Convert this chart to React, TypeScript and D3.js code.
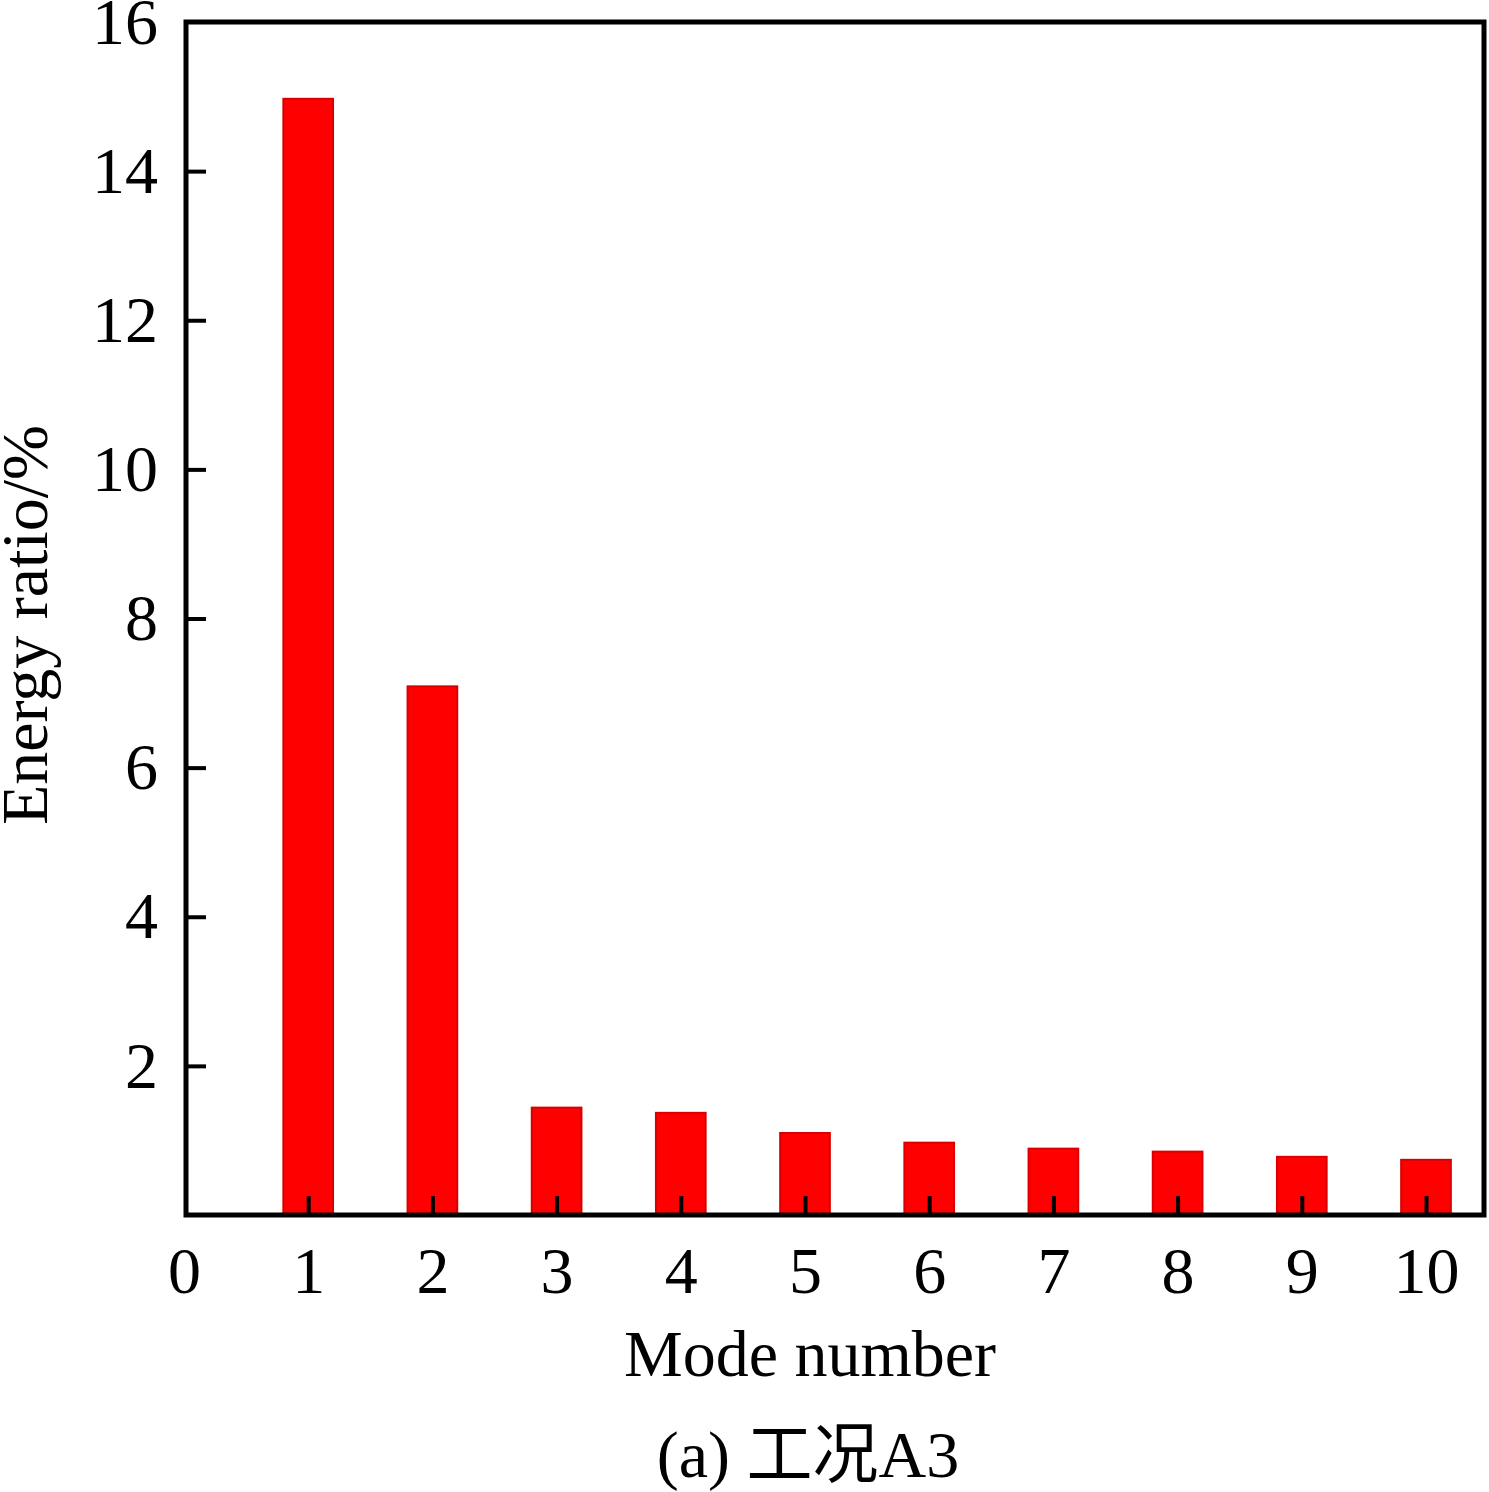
import * as d3 from "d3"
import { useEffect, useRef } from "react"

const modes = [1, 2, 3, 4, 5, 6, 7, 8, 9, 10]
const energyRatio = [14.97, 7.09, 1.44, 1.37, 1.1, 0.97, 0.89, 0.85, 0.78, 0.74]
const xTicks = [0, 1, 2, 3, 4, 5, 6, 7, 8, 9, 10]
const yTicks = [2, 4, 6, 8, 10, 12, 14, 16]

const font = "'Liberation Serif', 'Times New Roman', 'Noto Sans CJK SC', serif"

export default function App() {
    const svgRef = useRef<SVGSVGElement>(null)

    useEffect(() => {
        document.body.style.margin = "0"
        const width = 1489
        const height = 1492
        const left = 186
        const right = 1484
        const top = 22
        const bottom = 1215

        const x = d3.scaleLinear([0, 10], [184, 1426])
        const y = d3.scaleLinear([0, 16], [bottom, top])
        const barW = x(0.4) - x(0)

        if (svgRef.current !== null) svgRef.current.innerHTML = ""
        const svg = d3.select(svgRef.current)
            .attr("width", width)
            .attr("height", height)
            .attr("viewBox", [0, 0, width, height])
            .style("display", "block")
            .style("background", "#fff")

        svg.append("g")
            .selectAll()
            .data(modes)
            .join("rect")
            .attr("x", (m) => x(m) - barW / 2)
            .attr("y", (_, i) => y(energyRatio[i]))
            .attr("width", barW)
            .attr("height", (_, i) => bottom - y(energyRatio[i]))
            .attr("fill", "#ff0000")
            .attr("stroke", "#d80000")
            .attr("stroke-width", 2)

        // frame
        svg.append("rect")
            .attr("x", left)
            .attr("y", top)
            .attr("width", right - left)
            .attr("height", bottom - top)
            .attr("fill", "none")
            .attr("stroke", "#000")
            .attr("stroke-width", 5)

        // bottom axis, ticks inside
        svg.append("g")
            .attr("transform", `translate(0, ${bottom})`)
            .call(d3.axisBottom(x).tickValues(xTicks).tickSize(-19).tickPadding(31).tickSizeOuter(0))
            .call((g) => g.select(".domain").remove())
            .call((g) => g.selectAll("line").attr("stroke-width", 4))
            .call((g) => g.selectAll("text")
                .attr("font-family", font)
                .attr("font-size", 66)
                .attr("fill", "#000"))
            .call((g) => g.selectAll(".tick").filter((d) => d === 0).select("line").remove())

        // left axis, ticks inside
        svg.append("g")
            .attr("transform", `translate(${left}, 0)`)
            .call(d3.axisLeft(y).tickValues(yTicks).tickSize(-20).tickPadding(28).tickSizeOuter(0))
            .call((g) => g.select(".domain").remove())
            .call((g) => g.selectAll("line").attr("stroke-width", 4))
            .call((g) => g.selectAll("text")
                .attr("font-family", font)
                .attr("font-size", 66)
                .attr("fill", "#000"))
            .call((g) => g.selectAll(".tick").filter((d) => d === 16).select("line").remove())

        svg.append("text")
            .attr("x", 810)
            .attr("y", 1376)
            .attr("text-anchor", "middle")
            .attr("font-family", font)
            .attr("font-size", 66)
            .text("Mode number")

        svg.append("text")
            .attr("transform", `translate(47, 625) rotate(-90)`)
            .attr("text-anchor", "middle")
            .attr("font-family", font)
            .attr("font-size", 66)
            .text("Energy ratio/%")

        svg.append("text")
            .attr("x", 808)
            .attr("y", 1477)
            .attr("text-anchor", "middle")
            .attr("font-family", font)
            .attr("font-size", 66)
            .text("(a) 工况A3")
    }, [])

    return <svg ref={svgRef}></svg>
}
